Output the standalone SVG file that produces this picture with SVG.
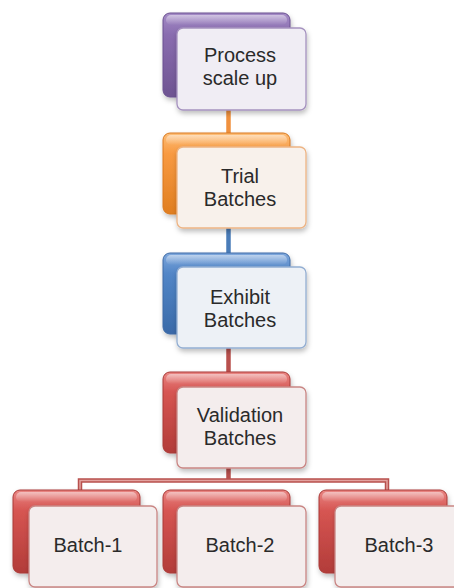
<svg xmlns="http://www.w3.org/2000/svg" width="454" height="588" viewBox="0 0 454 588">
<defs>
<filter id="sh" x="-20%" y="-20%" width="140%" height="150%"><feDropShadow dx="1" dy="3" stdDeviation="2.5" flood-color="#000" flood-opacity="0.25"/></filter>
<linearGradient id="gP" x1="0" y1="0" x2="0" y2="1"><stop offset="0" stop-color="#A48CC6"/><stop offset="0.25" stop-color="#8A6DB0"/><stop offset="1" stop-color="#6E5491"/></linearGradient>
<linearGradient id="gO" x1="0" y1="0" x2="0" y2="1"><stop offset="0" stop-color="#FDBE78"/><stop offset="0.25" stop-color="#F89A42"/><stop offset="1" stop-color="#E07E20"/></linearGradient>
<linearGradient id="gB" x1="0" y1="0" x2="0" y2="1"><stop offset="0" stop-color="#7EA7DC"/><stop offset="0.25" stop-color="#5286C7"/><stop offset="1" stop-color="#3A6AA8"/></linearGradient>
<linearGradient id="gR" x1="0" y1="0" x2="0" y2="1"><stop offset="0" stop-color="#E98683"/><stop offset="0.25" stop-color="#D65552"/><stop offset="1" stop-color="#B23C39"/></linearGradient>
<linearGradient id="gF" x1="0" y1="0" x2="0" y2="1"><stop offset="0" stop-color="#FFFFFF" stop-opacity="0.5"/><stop offset="1" stop-color="#FFFFFF" stop-opacity="0"/></linearGradient>
</defs>
<style>
.back{filter:url(#sh);stroke-width:1}
.front{filter:url(#sh);stroke-width:1.3}
.p .back{fill:url(#gP);stroke:#6A5090}
.o .back{fill:url(#gO);stroke:#D9791F}
.b .back{fill:url(#gB);stroke:#3E6BA6}
.r .back{fill:url(#gR);stroke:#A93A37}
.p .front{fill:#F0EDF4;stroke:#A592BF}
.o .front{fill:#F8F1EB;stroke:#EDB484}
.b .front{fill:#EDF1F6;stroke:#93AED2}
.r .front{fill:#F4EDED;stroke:#C98684}
text{font-family:"Liberation Sans",Arial,sans-serif;font-size:20px;fill:#2A2A2A;text-anchor:middle}
.cO{stroke:#F0913E}
.cB{stroke:#4A7CB8}
.cR{stroke:#B8504D}
.ci{stroke:#E3A29F;stroke-width:1.5;fill:none}
.c{fill:none;stroke-width:4.5}
</style>
<g id="connectors">
<line class="c cO" x1="228.5" y1="108" x2="228.5" y2="135"/>
<line class="c cB" x1="228.5" y1="226" x2="228.5" y2="255"/>
<line class="c cR" x1="228.5" y1="346" x2="228.5" y2="374"/>
<path class="c cR" d="M228.5 465 V480.5 M80 492 V480.5 H387 V492"/>
<path class="ci" d="M80 492 V480.5 H387 V492"/>
</g>
<g id="node-process" class="p">
<rect class="back" x="163" y="13" width="127" height="84" rx="7"/>
<rect x="166" y="15" width="121" height="10" rx="5" fill="url(#gF)"/>
<rect class="front" x="177" y="28" width="129" height="82" rx="6"/>
<text x="240" y="62">Process</text>
<text x="240" y="85">scale up</text>
</g>
<g id="node-trial" class="o">
<rect class="back" x="163" y="133" width="127" height="81" rx="7"/>
<rect x="166" y="135" width="121" height="10" rx="5" fill="url(#gF)"/>
<rect class="front" x="177" y="147" width="129" height="81" rx="6"/>
<text x="240" y="183">Trial</text>
<text x="240" y="206">Batches</text>
</g>
<g id="node-exhibit" class="b">
<rect class="back" x="163" y="253" width="127" height="81" rx="7"/>
<rect x="166" y="255" width="121" height="10" rx="5" fill="url(#gF)"/>
<rect class="front" x="177" y="267" width="129" height="81" rx="6"/>
<text x="240" y="304">Exhibit</text>
<text x="240" y="327">Batches</text>
</g>
<g id="node-validation" class="r">
<rect class="back" x="163" y="372" width="127" height="81" rx="7"/>
<rect x="166" y="374" width="121" height="10" rx="5" fill="url(#gF)"/>
<rect class="front" x="177" y="387" width="129" height="81" rx="6"/>
<text x="240" y="422">Validation</text>
<text x="240" y="445">Batches</text>
</g>
<g id="node-batch1" class="r">
<rect class="back" x="13" y="490" width="127" height="83" rx="7"/>
<rect x="16" y="492" width="121" height="10" rx="5" fill="url(#gF)"/>
<rect class="front" x="29" y="506" width="128" height="81" rx="6"/>
<text x="88" y="552">Batch-1</text>
</g>
<g id="node-batch2" class="r">
<rect class="back" x="163" y="490" width="127" height="83" rx="7"/>
<rect x="166" y="492" width="121" height="10" rx="5" fill="url(#gF)"/>
<rect class="front" x="177" y="506" width="129" height="81" rx="6"/>
<text x="240" y="552">Batch-2</text>
</g>
<g id="node-batch3" class="r">
<rect class="back" x="319" y="490" width="128" height="83" rx="7"/>
<rect x="322" y="492" width="122" height="10" rx="5" fill="url(#gF)"/>
<rect class="front" x="335" y="506" width="128" height="81" rx="6"/>
<text x="399" y="552">Batch-3</text>
</g>
</svg>
